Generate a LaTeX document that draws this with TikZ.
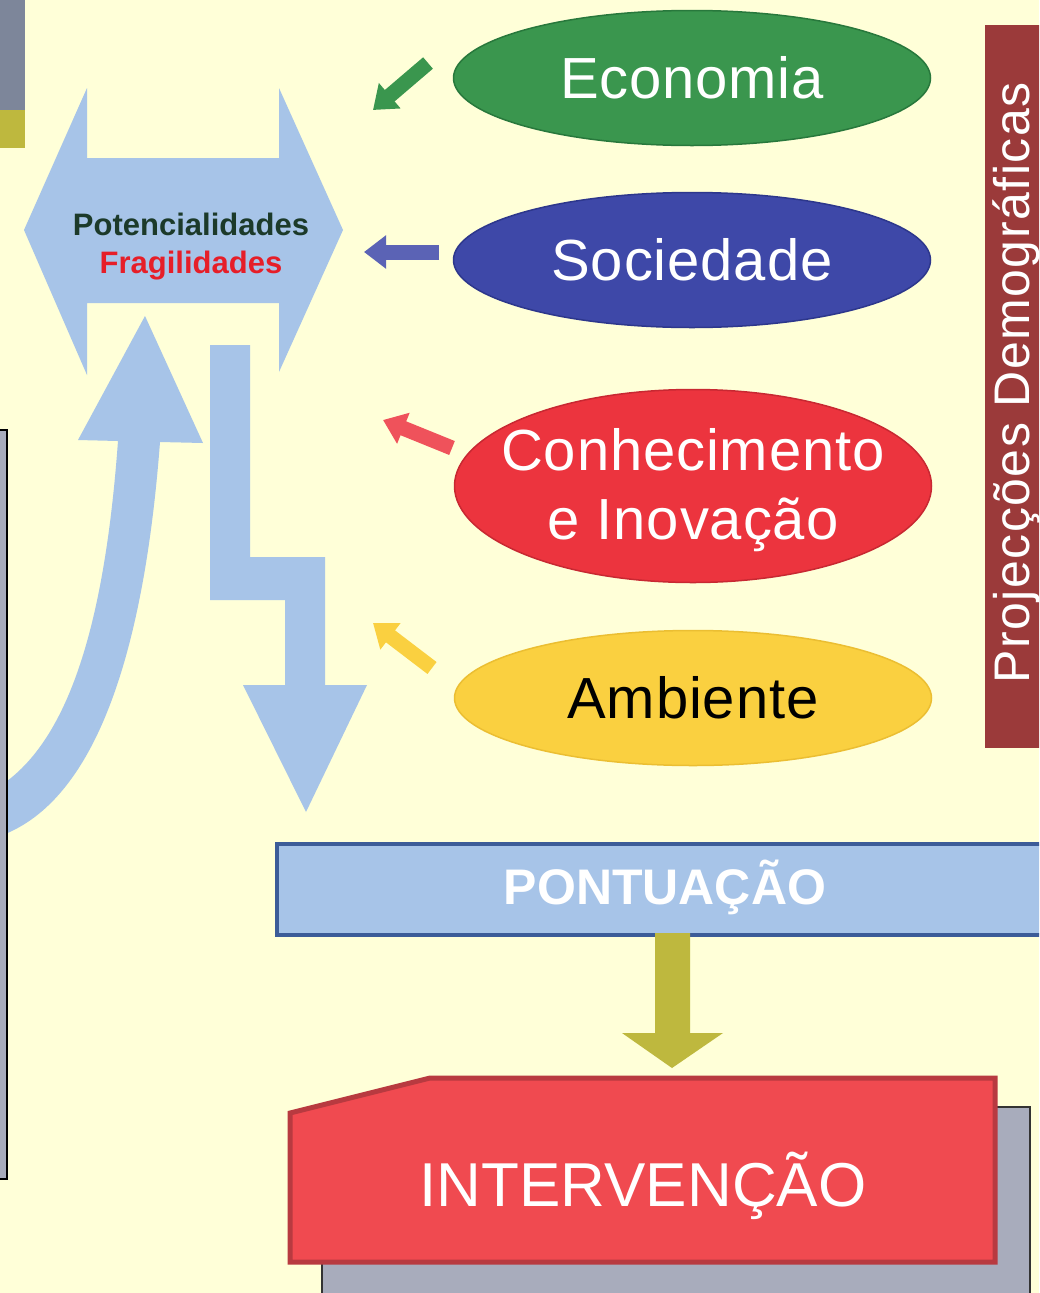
\documentclass[tikz,border=0pt]{standalone}
\usepackage{fontspec}
\setmainfont{Liberation Sans}
\usetikzlibrary{shapes.geometric,arrows.meta}
\definecolor{bgc}{RGB}{255,255,216}
\definecolor{lblue}{RGB}{167,196,232}
\definecolor{dblue}{RGB}{60,92,152}
\definecolor{ecog}{RGB}{58,150,78}
\definecolor{ecogd}{RGB}{40,120,60}
\definecolor{socb}{RGB}{62,72,168}
\definecolor{socbd}{RGB}{45,55,140}
\definecolor{conr}{RGB}{236,52,62}
\definecolor{conrd}{RGB}{200,40,50}
\definecolor{ambY}{RGB}{250,208,64}
\definecolor{ambYd}{RGB}{235,190,50}
\definecolor{barred}{RGB}{155,58,58}
\definecolor{olive}{RGB}{190,184,62}
\definecolor{grayb}{RGB}{125,134,154}
\definecolor{lgray}{RGB}{168,172,188}
\definecolor{intr}{RGB}{240,74,80}
\definecolor{intrd}{RGB}{184,58,64}
\definecolor{potg}{RGB}{28,58,42}
\definecolor{fragr}{RGB}{230,30,40}
\tikzset{
  ell/.style={ellipse, minimum width=477pt, minimum height=135pt, inner sep=0pt, line width=1.5pt},
  elltext/.style={font=\fontsize{58}{69}\selectfont\addfontfeature{LetterSpace=1.5}, align=center, inner sep=0pt},
  smallarrow/.style={line width=15pt, -{Triangle[width=32pt,length=22pt]}},
}
\begin{document}
\begin{tikzpicture}[x=1pt,y=-1pt]
\useasboundingbox (0,0) rectangle (1039,1293);
\clip (0,0) rectangle (1039,1293);
\fill[bgc] (0,0) rectangle (1039,1293);

% top-left bar
\fill[grayb] (0,0) rectangle (25,110);
\fill[olive] (0,110) rectangle (25,148);

% double arrow
\fill[lblue] (24,230) -- (87,88) -- (87,158) -- (279,158) -- (279,88) -- (343,230)
  -- (279,372) -- (279,303) -- (87,303) -- (87,375) -- cycle;
\node[anchor=base, font=\fontsize{31}{36}\selectfont\bfseries, text=potg] (pot) at (191,235) {Potencialidades};
\node[anchor=base, font=\fontsize{31}{36}\selectfont\bfseries, text=fragr] (frag) at (191,273) {Fragilidades};

% curved up arrow
\fill[lblue] (145,316) -- (203,443) -- (160,442)
  .. controls (145,640) and (100,800) .. (0,836)
  -- (0,786)
  .. controls (70,740) and (105,620) .. (118,441)
  -- (78,440) -- cycle;

% left box
\filldraw[fill=lgray, draw=black, line width=2pt] (-10,430) rectangle (7,1179);

% zigzag down arrow
\fill[lblue] (210,345) -- (250,345) -- (250,557) -- (325,557) -- (325,685) -- (367,685)
  -- (306,812) -- (243,685) -- (285,685) -- (285,600) -- (210,600) -- cycle;

% ellipses
\node[ell, fill=ecog, draw=ecogd] (eco) at (692,78) {};
\node[elltext, text=white] (ecot) at (eco.center) {Economia};
\node[ell, fill=socb, draw=socbd] (soc) at (692,260) {};
\node[elltext, text=white] (soct) at (soc.center) {Sociedade};
\node[ell, fill=conr, draw=conrd, minimum height=193pt] (con) at (693,486) {};
\node[elltext, text=white] (cont) at (693,490) {Conhecimento\\e Inovação};
\node[ell, fill=ambY, draw=ambYd] (amb) at (693,698) {};
\node[elltext, text=black] (ambt) at (amb.center) {Ambiente};

% small arrows
\coordinate (ecoT) at (428,63);  \coordinate (ecoH) at (373,110);
\coordinate (socT) at (439,252); \coordinate (socH) at (364,252);
\coordinate (conT) at (452,448); \coordinate (conH) at (383,420);
\coordinate (ambT) at (432,668); \coordinate (ambH) at (373,623);
\draw[smallarrow, draw=ecog, fill=ecog] (ecoT) -- (ecoH);
\draw[smallarrow, draw=socb!85!white, fill=socb!85!white] (socT) -- (socH);
\draw[smallarrow, draw=conr!85!white, fill=conr!85!white] (conT) -- (conH);
\draw[smallarrow, draw=ambY, fill=ambY] (ambT) -- (ambH);

% right bar
\fill[barred] (985,25) rectangle (1045,748);
\node[rotate=90, anchor=base, text=white, inner sep=0pt, font=\fontsize{50}{56}\selectfont\addfontfeature{LetterSpace=3}] (proj) at (1029,383) {Projecções Demográficas};

% PONTUACAO box
\node[draw=dblue, fill=lblue, line width=4pt, minimum width=780pt, minimum height=91pt, anchor=north west, inner sep=0pt] (pont) at (275,842) {};
\node[text=white, font=\fontsize{50}{56}\selectfont\bfseries] (pontt) at (665,887) {PONTUAÇÃO};

% olive arrow
\fill[olive] (655,933) -- (690,933) -- (690,1033) -- (723,1033) -- (672,1068) -- (622,1033) -- (655,1033) -- cycle;

% intervencao
\filldraw[fill=lgray, draw=black!80, line width=2pt] (322,1107) rectangle (1030,1310);
\filldraw[fill=intr, draw=intrd, line width=5pt] (290,1113) -- (430,1078) -- (995,1078) -- (995,1262) -- (290,1262) -- cycle;
\node[text=white, font=\fontsize{62}{70}\selectfont] (interv) at (643,1186) {INTERVENÇÃO};
\end{tikzpicture}
\end{document}
